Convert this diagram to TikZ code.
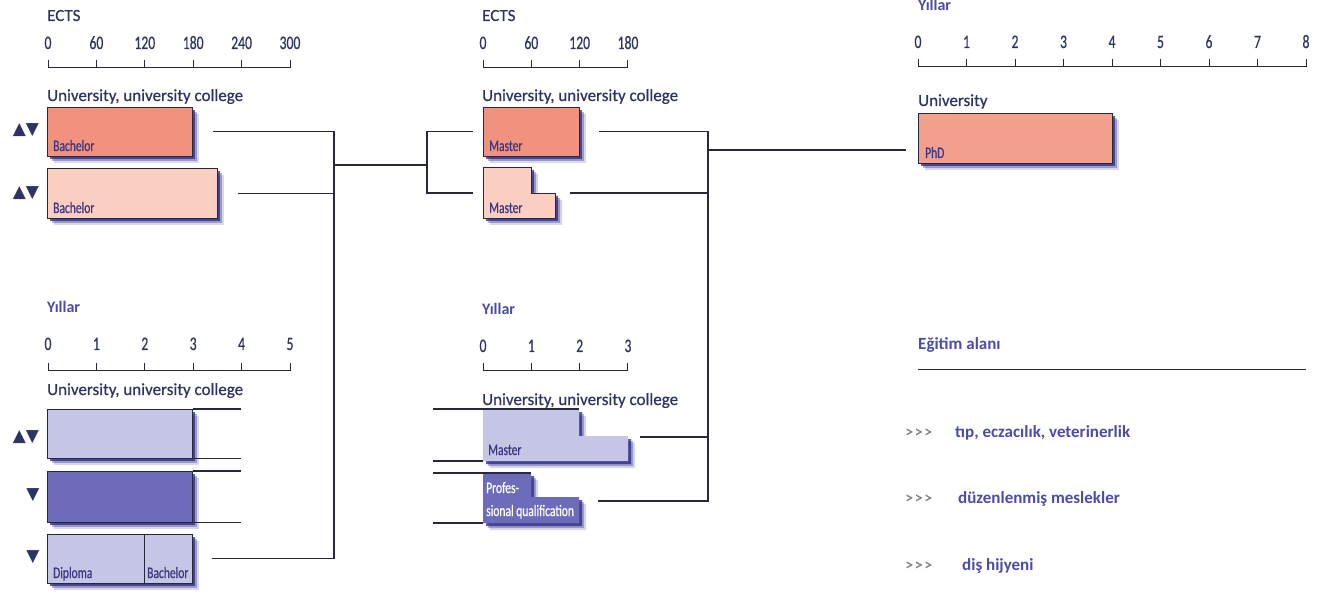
\documentclass[tikz,border=0pt]{standalone}
\usepackage{fontspec}
\setmainfont{Carlito}
\newfontfamily\headfont{Carlito}[FakeBold=0.6]
\newfontfamily\condfont{Carlito}[FakeStretch=0.72, FakeBold=0.5]
\newfontfamily\symfont{DejaVu Sans}
\usepackage{xcolor}
\usetikzlibrary{shadows, calc}

\definecolor{salmon}{RGB}{240,146,126}
\definecolor{phdsalmon}{RGB}{242,160,140}
\definecolor{pinkbar}{RGB}{250,206,192}
\definecolor{lavlight}{RGB}{197,197,230}
\definecolor{lavdark}{RGB}{108,108,186}
\definecolor{navy}{RGB}{45,52,100}
\definecolor{textblue}{RGB}{75,75,170}
\definecolor{labblue}{RGB}{60,55,130}
\definecolor{shadowblue}{RGB}{40,40,135}
\definecolor{linegray}{RGB}{40,40,60}

\begin{document}
\begin{tikzpicture}[
      x=1pt, y=-1pt,
      every node/.style={inner sep=0pt},
      head/.style={anchor=base west, font=\headfont\fontsize{17}{19}\selectfont, text=navy},
      yrhead/.style={anchor=base west, font=\fontsize{16}{18}\selectfont\bfseries, text=textblue},
      tick/.style={anchor=base, font=\condfont\fontsize{19}{21}\selectfont, text=navy},
      axis/.style={draw=linegray, line width=1pt},
      link/.style={draw=linegray, line width=1.1pt},
      shade/.style={
        drop shadow={shadow xshift=7pt, shadow yshift=-7pt, fill=shadowblue, draw=none, opacity=.18},
        drop shadow={shadow xshift=5pt, shadow yshift=-5pt, fill=shadowblue, draw=none, opacity=.35},
        drop shadow={shadow xshift=3pt, shadow yshift=-3pt, fill=shadowblue, draw=none, opacity=.75}},
      bar/.style={shade, draw=linegray, line width=0.8pt, anchor=north west},
      barlab/.style={anchor=base west, font=\condfont\fontsize{16}{18}\selectfont, text=labblue},
      marks/.style={font=\symfont\fontsize{17}{19}\selectfont, text=navy},
      item/.style={anchor=base west, font=\fontsize{17}{20}\selectfont\bfseries, text=textblue},
      chev/.style={anchor=base west, font=\headfont\fontsize{16}{18}\selectfont, text=gray}
    ]
  \fill[white] (0,0) rectangle (1333,593);
  \useasboundingbox (0,0) rectangle (1333,593);

  % ECTS, bachelor
  \node[head] (ectsA) at (47,21) {ECTS};
  \draw[axis] (48,68) -- (290,68);
  \foreach \v [count=\i from 0] in {0,60,120,180,240,300} {
    \draw[axis] (48+48.4*\i,60) -- ++(0,8);
    \node[tick] (ectsA-\i) at (48+48.4*\i,49) {\v};
  }
  \node[head] (uniA) at (47,101) {University, university college};
  \node[bar, fill=salmon, minimum width=145, minimum height=49] (bachA) at (47,107) {};
  \node[bar, fill=pinkbar, minimum width=170, minimum height=50] (bachB) at (47,168) {};
  \node[barlab] (bachA-lab) at (53,151) {Bachelor};
  \node[barlab] (bachB-lab) at (53,213) {Bachelor};
  \node[marks] (mkA) at (26,130) {▲▼};
  \node[marks] (mkB) at (26,193) {▲▼};

  % years, bachelor
  \node[yrhead] (yrsA) at (47,313) {Yıllar};
  \draw[axis] (48,371) -- (290,371);
  \foreach \v [count=\i from 0] in {0,...,5} {
    \draw[axis] (48+48.4*\i,363) -- ++(0,8);
    \node[tick] (yrsA-\i) at (48+48.4*\i,350) {\v};
  }
  \node[head] (uniB) at (47,395) {University, university college};
  \node[bar, fill=lavlight, minimum width=145, minimum height=49] (yrA) at (47,409) {};
  \node[bar, fill=lavdark, minimum width=145, minimum height=51] (yrB) at (47,471) {};
  \node[bar, fill=lavlight, minimum width=97, minimum height=49] (dipl) at (47,534) {};
  \node[bar, fill=lavlight, minimum width=48, minimum height=49] (bachC) at (144,534) {};
  \node[barlab] (dipl-lab) at (53,578) {Diploma};
  \node[barlab] (bachC-lab) at (147,578) {Bachelor};
  \node[marks] (mkC) at (26,437) {▲▼};
  \node[marks] (mkD) at (33,495) {▼};
  \node[marks] (mkE) at (33,557) {▼};
  \coordinate (lend) at (241,0);
  \foreach \b in {yrA,yrB} {
    \draw[link] (\b.north east) -- (\b.north east -| lend);
    \draw[link] (\b.south east) -- (\b.south east -| lend);
  }

  % ECTS, master
  \node[head] (ectsB) at (482,21) {ECTS};
  \draw[axis] (483,68) -- (628,68);
  \foreach \v [count=\i from 0] in {0,60,120,180} {
    \draw[axis] (483+48.33*\i,60) -- ++(0,8);
    \node[tick] (ectsB-\i) at (483+48.33*\i,49) {\v};
  }
  \node[head] (uniC) at (482,101) {University, university college};
  \node[bar, fill=salmon, minimum width=96, minimum height=49] (mastA) at (483,107) {};
  \coordinate (mastB) at (483,193);
  \coordinate (mastB-e) at (555,193);
  \draw[shade, draw=linegray, line width=0.8pt, fill=pinkbar]
    (483,167) -| (531,193) -| (555,218) -| (483,167) -- cycle;
  \node[barlab] (mastA-lab) at (489,151) {Master};
  \node[barlab] (mastB-lab) at (489,213) {Master};

  % years, master
  \node[yrhead] (yrsB) at (482,315) {Yıllar};
  \draw[axis] (483,371) -- (628,371);
  \foreach \v [count=\i from 0] in {0,...,3} {
    \draw[axis] (483+48.33*\i,363) -- ++(0,8);
    \node[tick] (yrsB-\i) at (483+48.33*\i,352) {\v};
  }
  \node[head] (uniD) at (482,405) {University, university college};
  \coordinate (mastC) at (483,409);
  \coordinate (mastC-n) at (579,409);
  \coordinate (mastC-s) at (483,461);
  \coordinate (mastC-e) at (628,437);
  \fill[shade, fill=lavlight] (483,409) -| (579,436) -| (628,461) -| (483,409) -- cycle;
  \coordinate (prof) at (483,473);
  \coordinate (prof-n) at (531,473);
  \coordinate (prof-s) at (483,523);
  \coordinate (prof-e) at (579,501);
  \fill[shade, fill=lavdark] (483,473) -| (531,497) -| (579,523) -| (483,473) -- cycle;
  \node[barlab] (mastC-lab) at (488,455) {Master};
  \node[barlab, text=white] (prof-lab1) at (486,493) {Profes-};
  \node[barlab, text=white] (prof-lab2) at (486,516) {sional qualification};
  \coordinate (mstub) at (433,0);
  \draw[link] (mstub |- mastC) -- (mastC-n);
  \draw[link] (mstub |- mastC-s) -- (mastC-s);
  \draw[link] (mstub |- prof) -- (prof-n);
  \draw[link] (mstub |- prof-s) -- (prof-s);

  % years, PhD
  \node[yrhead] (yrsC) at (918,11) {Yıllar};
  \draw[axis] (918,67) -- (1306,67);
  \foreach \v [count=\i from 0] in {0,...,8} {
    \draw[axis] (918+48.5*\i,59) -- ++(0,8);
    \node[tick] (yrsC-\i) at (918+48.5*\i,48) {\v};
  }
  \node[head] (uniE) at (918,106) {University};
  \node[bar, fill=phdsalmon, minimum width=194, minimum height=50] (phd) at (918,113) {};
  \node[barlab] (phd-lab) at (925,158) {PhD};

  % connectors
  \coordinate (jl) at (334,165);
  \coordinate (jm) at (427,165);
  \coordinate (jr) at (708,150);
  \draw[link, shorten <=20pt] (bachA.east) -| (jl);
  \draw[link, shorten <=20pt] (bachB.east) -| (jl);
  \draw[link, shorten <=19pt] (bachC.east) -| (jl);
  \draw[link] (jl) -- (jm);
  \draw[link, shorten >=10pt] (jm) |- (mastA.west);
  \draw[link, shorten >=10pt] (jm) |- (mastB);
  \draw[link, shorten <=19pt] (mastA.east) -| (jr);
  \draw[link, shorten <=15pt] (mastB-e) -| (jr);
  \draw[link, shorten <=12pt] (mastC-e) -| (jr);
  \draw[link, shorten <=19pt] (prof-e) -| (jr);
  \draw[link, shorten >=12pt] (jr) -- (jr -| phd.west);

  % legend
  \node[yrhead, font=\fontsize{17}{20}\selectfont\bfseries] (field) at (918,350) {Eğitim alanı};
  \draw[axis] (918,370) -- (1306,370);
  \node[chev] (chA) at (905,437) {>\hspace{1.5pt}>\hspace{1.5pt}>};
  \node[chev] (chB) at (905,503) {>\hspace{1.5pt}>\hspace{1.5pt}>};
  \node[chev] (chC) at (905,570) {>\hspace{1.5pt}>\hspace{1.5pt}>};
  \node[item] (itA) at (955,437) {tıp, eczacılık, veterinerlik};
  \node[item] (itB) at (958,503) {düzenlenmiş meslekler};
  \node[item] (itC) at (962,570) {diş hijyeni};
\end{tikzpicture}
\end{document}
